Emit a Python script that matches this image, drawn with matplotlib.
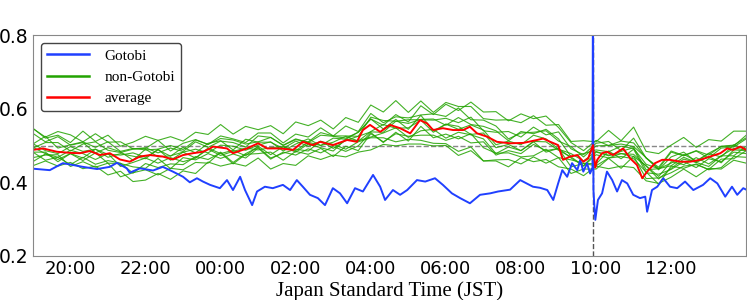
import numpy as np
import matplotlib
matplotlib.use("Agg")
import matplotlib.pyplot as plt

# hours since 19:00 of the previous day (24 = midnight, 38 = 14:00)
blue_t = [19.00, 19.45, 19.80, 20.07, 20.33, 20.71, 21.05, 21.24, 21.50, 21.58,
          21.85, 22.20, 22.46, 22.73, 23.00, 23.18, 23.37, 23.53, 23.72, 23.98,
          24.17, 24.33, 24.52, 24.65, 24.84, 24.97, 25.18, 25.39, 25.66, 25.85,
          26.03, 26.19, 26.38, 26.59, 26.78, 26.99, 27.18, 27.37, 27.58, 27.79,
          28.06, 28.25, 28.38, 28.59, 28.78, 28.97, 29.23, 29.45, 29.71, 29.92,
          30.16, 30.38, 30.64, 30.91, 31.18, 31.39, 31.71, 31.98, 32.32, 32.51,
          32.70, 32.86, 32.99, 33.10, 33.23, 33.36, 33.50, 33.58, 33.66, 33.76,
          33.84, 33.905, 33.917, 33.93, 33.95, 33.98, 34.05, 34.16, 34.29, 34.43,
          34.56, 34.69, 34.83, 34.99, 35.17, 35.31, 35.36, 35.49, 35.63, 35.79,
          35.97, 36.16, 36.37, 36.59, 36.85, 37.04, 37.23, 37.44, 37.62, 37.76,
          37.92, 38.00]
blue_v = [0.437, 0.433, 0.452, 0.447, 0.442, 0.436, 0.442, 0.453, 0.438, 0.426,
          0.438, 0.432, 0.442, 0.429, 0.415, 0.400, 0.411, 0.402, 0.393, 0.384,
          0.406, 0.379, 0.415, 0.379, 0.338, 0.375, 0.388, 0.384, 0.393, 0.379,
          0.406, 0.388, 0.366, 0.357, 0.338, 0.384, 0.370, 0.343, 0.384, 0.375,
          0.420, 0.388, 0.352, 0.379, 0.366, 0.379, 0.406, 0.402, 0.411, 0.393,
          0.370, 0.357, 0.343, 0.366, 0.370, 0.375, 0.380, 0.406, 0.388, 0.385,
          0.379, 0.352, 0.397, 0.433, 0.415, 0.452, 0.433, 0.461, 0.429, 0.452,
          0.424, 0.440, 0.950, 0.380, 0.343, 0.298, 0.352, 0.370, 0.429, 0.406,
          0.375, 0.406, 0.397, 0.366, 0.357, 0.361, 0.320, 0.379, 0.388, 0.411,
          0.388, 0.384, 0.402, 0.379, 0.393, 0.411, 0.397, 0.361, 0.388, 0.366,
          0.384, 0.380]

red_t = [19.00, 19.27, 19.64, 19.99, 20.25, 20.52, 20.79, 21.05, 21.32, 21.58,
         21.85, 22.12, 22.46, 22.73, 23.00, 23.26, 23.53, 23.72, 23.80, 24.17,
         24.33, 24.70, 25.00, 25.24, 25.58, 25.93, 26.19, 26.46, 26.65, 26.99,
         27.37, 27.63, 27.79, 27.98, 28.25, 28.51, 28.78, 29.05, 29.31, 29.50,
         29.66, 29.92, 30.19, 30.46, 30.64, 30.83, 31.10, 31.36, 31.71, 32.06,
         32.43, 32.59, 32.78, 32.99, 33.12, 33.31, 33.50, 33.66, 33.79, 33.917,
         33.98, 34.03, 34.16, 34.29, 34.45, 34.72, 34.91, 35.09, 35.23, 35.36,
         35.57, 35.76, 35.97, 36.24, 36.51, 36.77, 37.04, 37.31, 37.49, 37.65,
         37.84, 38.00]
red_v = [0.488, 0.492, 0.483, 0.480, 0.479, 0.485, 0.474, 0.479, 0.462, 0.456,
         0.470, 0.474, 0.470, 0.462, 0.474, 0.479, 0.483, 0.492, 0.497, 0.492,
         0.479, 0.492, 0.506, 0.492, 0.492, 0.488, 0.510, 0.501, 0.510, 0.501,
         0.515, 0.510, 0.542, 0.556, 0.537, 0.556, 0.547, 0.533, 0.569, 0.560,
         0.542, 0.547, 0.542, 0.542, 0.551, 0.533, 0.524, 0.510, 0.506, 0.507,
         0.515, 0.519, 0.510, 0.501, 0.461, 0.470, 0.474, 0.456, 0.465, 0.501,
         0.440, 0.461, 0.479, 0.483, 0.474, 0.492, 0.465, 0.447, 0.411, 0.429,
         0.452, 0.461, 0.461, 0.456, 0.456, 0.461, 0.470, 0.479, 0.492, 0.488,
         0.497, 0.488]

# non-Gotobi days, sampled every 20 minutes from 19:00 to 14:00
green_lines = [
    [0.547, 0.520, 0.528, 0.508, 0.539, 0.511, 0.528, 0.498, 0.509, 0.525, 0.514, 0.524, 0.512, 0.536, 0.530, 0.557, 0.531, 0.552, 0.543, 0.554, 0.532, 0.564, 0.554, 0.569, 0.545, 0.576, 0.563, 0.610, 0.591, 0.622, 0.590, 0.621, 0.590, 0.617, 0.606, 0.606, 0.573, 0.569, 0.570, 0.562, 0.581, 0.555, 0.557, 0.511, 0.513, 0.510, 0.541, 0.513, 0.550, 0.484, 0.478, 0.501, 0.522, 0.495, 0.516, 0.512, 0.539, 0.539],
    [0.445, 0.458, 0.444, 0.454, 0.437, 0.444, 0.420, 0.430, 0.402, 0.406, 0.424, 0.408, 0.431, 0.424, 0.455, 0.444, 0.452, 0.444, 0.466, 0.436, 0.451, 0.446, 0.472, 0.462, 0.474, 0.469, 0.482, 0.488, 0.503, 0.499, 0.504, 0.504, 0.499, 0.500, 0.473, 0.486, 0.458, 0.458, 0.442, 0.467, 0.456, 0.462, 0.442, 0.436, 0.418, 0.444, 0.437, 0.444, 0.440, 0.404, 0.397, 0.414, 0.436, 0.415, 0.438, 0.436, 0.460, 0.452],
    [0.504, 0.525, 0.493, 0.502, 0.510, 0.495, 0.510, 0.484, 0.492, 0.488, 0.490, 0.500, 0.489, 0.515, 0.503, 0.526, 0.518, 0.508, 0.534, 0.534, 0.507, 0.531, 0.523, 0.548, 0.526, 0.553, 0.538, 0.587, 0.562, 0.578, 0.575, 0.583, 0.586, 0.579, 0.602, 0.570, 0.569, 0.553, 0.518, 0.534, 0.536, 0.540, 0.512, 0.497, 0.469, 0.499, 0.500, 0.512, 0.507, 0.466, 0.441, 0.485, 0.473, 0.486, 0.474, 0.498, 0.501, 0.521],
    [0.482, 0.460, 0.468, 0.448, 0.468, 0.449, 0.459, 0.452, 0.425, 0.451, 0.440, 0.450, 0.448, 0.470, 0.462, 0.480, 0.450, 0.476, 0.478, 0.482, 0.460, 0.484, 0.476, 0.492, 0.470, 0.498, 0.486, 0.532, 0.510, 0.532, 0.525, 0.528, 0.528, 0.514, 0.525, 0.507, 0.510, 0.474, 0.486, 0.478, 0.503, 0.486, 0.492, 0.442, 0.451, 0.445, 0.466, 0.470, 0.464, 0.428, 0.395, 0.444, 0.438, 0.450, 0.434, 0.440, 0.470, 0.468],
    [0.533, 0.510, 0.524, 0.501, 0.508, 0.480, 0.494, 0.483, 0.460, 0.490, 0.469, 0.472, 0.482, 0.466, 0.493, 0.478, 0.487, 0.472, 0.498, 0.475, 0.497, 0.486, 0.509, 0.500, 0.520, 0.517, 0.536, 0.572, 0.555, 0.584, 0.564, 0.608, 0.584, 0.612, 0.595, 0.618, 0.591, 0.592, 0.567, 0.586, 0.573, 0.580, 0.549, 0.508, 0.486, 0.514, 0.500, 0.504, 0.497, 0.467, 0.434, 0.469, 0.482, 0.456, 0.478, 0.469, 0.502, 0.490],
    [0.456, 0.477, 0.462, 0.478, 0.466, 0.490, 0.476, 0.474, 0.480, 0.468, 0.488, 0.471, 0.495, 0.480, 0.506, 0.513, 0.488, 0.517, 0.509, 0.509, 0.492, 0.512, 0.498, 0.511, 0.503, 0.490, 0.510, 0.521, 0.521, 0.510, 0.517, 0.514, 0.506, 0.505, 0.484, 0.496, 0.458, 0.461, 0.462, 0.450, 0.469, 0.452, 0.467, 0.424, 0.436, 0.436, 0.465, 0.438, 0.471, 0.410, 0.412, 0.426, 0.444, 0.448, 0.435, 0.463, 0.464, 0.486],
    [0.505, 0.486, 0.478, 0.497, 0.484, 0.490, 0.468, 0.478, 0.471, 0.464, 0.490, 0.460, 0.482, 0.490, 0.480, 0.501, 0.498, 0.487, 0.501, 0.510, 0.485, 0.504, 0.518, 0.500, 0.509, 0.525, 0.512, 0.538, 0.557, 0.547, 0.548, 0.569, 0.536, 0.558, 0.544, 0.556, 0.542, 0.502, 0.512, 0.502, 0.528, 0.518, 0.490, 0.478, 0.458, 0.484, 0.472, 0.484, 0.494, 0.434, 0.437, 0.445, 0.468, 0.454, 0.470, 0.453, 0.488, 0.486],
    [0.467, 0.474, 0.475, 0.443, 0.456, 0.441, 0.452, 0.415, 0.426, 0.434, 0.420, 0.438, 0.434, 0.454, 0.452, 0.482, 0.454, 0.478, 0.495, 0.466, 0.479, 0.490, 0.485, 0.512, 0.492, 0.514, 0.525, 0.537, 0.536, 0.566, 0.560, 0.571, 0.572, 0.555, 0.576, 0.557, 0.552, 0.540, 0.513, 0.538, 0.532, 0.544, 0.518, 0.470, 0.478, 0.488, 0.483, 0.498, 0.492, 0.449, 0.437, 0.452, 0.476, 0.458, 0.479, 0.497, 0.499, 0.528],
    [0.546, 0.523, 0.538, 0.529, 0.510, 0.532, 0.509, 0.510, 0.491, 0.492, 0.514, 0.485, 0.506, 0.516, 0.503, 0.519, 0.515, 0.504, 0.510, 0.522, 0.501, 0.518, 0.508, 0.528, 0.525, 0.520, 0.536, 0.572, 0.545, 0.571, 0.544, 0.582, 0.540, 0.558, 0.552, 0.530, 0.534, 0.494, 0.503, 0.486, 0.511, 0.510, 0.487, 0.469, 0.445, 0.482, 0.474, 0.478, 0.470, 0.445, 0.416, 0.456, 0.448, 0.467, 0.450, 0.472, 0.492, 0.489],
    [0.482, 0.482, 0.456, 0.478, 0.459, 0.480, 0.452, 0.451, 0.442, 0.438, 0.465, 0.437, 0.467, 0.461, 0.478, 0.465, 0.477, 0.466, 0.493, 0.463, 0.482, 0.474, 0.491, 0.480, 0.497, 0.484, 0.499, 0.535, 0.508, 0.536, 0.512, 0.552, 0.521, 0.531, 0.518, 0.532, 0.494, 0.479, 0.480, 0.469, 0.472, 0.490, 0.467, 0.461, 0.452, 0.450, 0.485, 0.464, 0.490, 0.426, 0.422, 0.435, 0.456, 0.440, 0.464, 0.456, 0.482, 0.478],
    [0.493, 0.508, 0.508, 0.485, 0.504, 0.510, 0.487, 0.481, 0.490, 0.494, 0.480, 0.493, 0.484, 0.510, 0.495, 0.512, 0.508, 0.496, 0.526, 0.522, 0.500, 0.516, 0.510, 0.535, 0.526, 0.526, 0.525, 0.577, 0.568, 0.566, 0.570, 0.570, 0.569, 0.574, 0.562, 0.577, 0.540, 0.536, 0.538, 0.523, 0.550, 0.529, 0.537, 0.491, 0.475, 0.506, 0.511, 0.486, 0.520, 0.466, 0.437, 0.482, 0.472, 0.485, 0.466, 0.493, 0.496, 0.518],
    [0.495, 0.478, 0.468, 0.487, 0.478, 0.462, 0.478, 0.443, 0.454, 0.466, 0.452, 0.467, 0.456, 0.466, 0.490, 0.473, 0.484, 0.493, 0.488, 0.494, 0.497, 0.482, 0.504, 0.494, 0.485, 0.517, 0.513, 0.523, 0.534, 0.548, 0.522, 0.540, 0.544, 0.520, 0.536, 0.529, 0.518, 0.478, 0.496, 0.486, 0.510, 0.482, 0.492, 0.466, 0.444, 0.475, 0.466, 0.478, 0.476, 0.444, 0.409, 0.438, 0.463, 0.454, 0.443, 0.472, 0.472, 0.498],
]

tick_hours = [20, 22, 24, 26, 28, 30, 32, 34, 36]
tick_labels = ["20:00", "22:00", "00:00", "02:00", "04:00", "06:00", "08:00", "10:00", "12:00"]
fixing_time = 33 + 55 / 60.0  # 09:55 JST

fig = plt.figure(figsize=(7.47, 3.0), dpi=100)
ax = fig.add_axes([0.044, 0.147, 0.955, 0.736])

for i, g in enumerate(green_lines):
    t = np.linspace(19, 38, len(g))
    ax.plot(t, g, color="#22a300", lw=0.8, alpha=0.85,
            label="non-Gotobi" if i == 0 else None)

ax.axhline(0.5, color="#888888", ls="--", lw=1.0, zorder=1)
ax.axvline(fixing_time, color="#555555", ls="--", lw=1.0, zorder=1)

ax.plot(blue_t, blue_v, color="#2040ff", lw=1.4, label="Gotobi")
ax.plot(red_t, red_v, color="#ff0000", lw=1.4, label="average")

ax.set_xlim(19, 38)
ax.set_ylim(0.2, 0.8)
ax.set_yticks([0.2, 0.4, 0.6, 0.8])
ax.set_xticks(tick_hours)
ax.set_xticklabels(tick_labels)
ax.tick_params(length=0, pad=3)
ax.tick_params(axis="x", labelsize=13)
ax.tick_params(axis="y", labelsize=13.5)
for s in ax.spines.values():
    s.set_color("#888888")

ax.set_xlabel("Japan Standard Time (JST)", family="Liberation Serif", fontsize=15, labelpad=2)

h, l = ax.get_legend_handles_labels()
order = [l.index("Gotobi"), l.index("non-Gotobi"), l.index("average")]
leg = ax.legend([h[k] for k in order], [l[k] for k in order], loc="upper left",
                prop={"family": "Liberation Serif", "size": 11},
                handlelength=2.8, handletextpad=1.0, borderaxespad=0.5,
                fancybox=True, framealpha=1.0)
leg.get_frame().set_edgecolor("#444444")
for line in leg.get_lines():
    line.set_linewidth(1.8)
    line.set_alpha(1.0)

fig.savefig("out.png", dpi=100)
